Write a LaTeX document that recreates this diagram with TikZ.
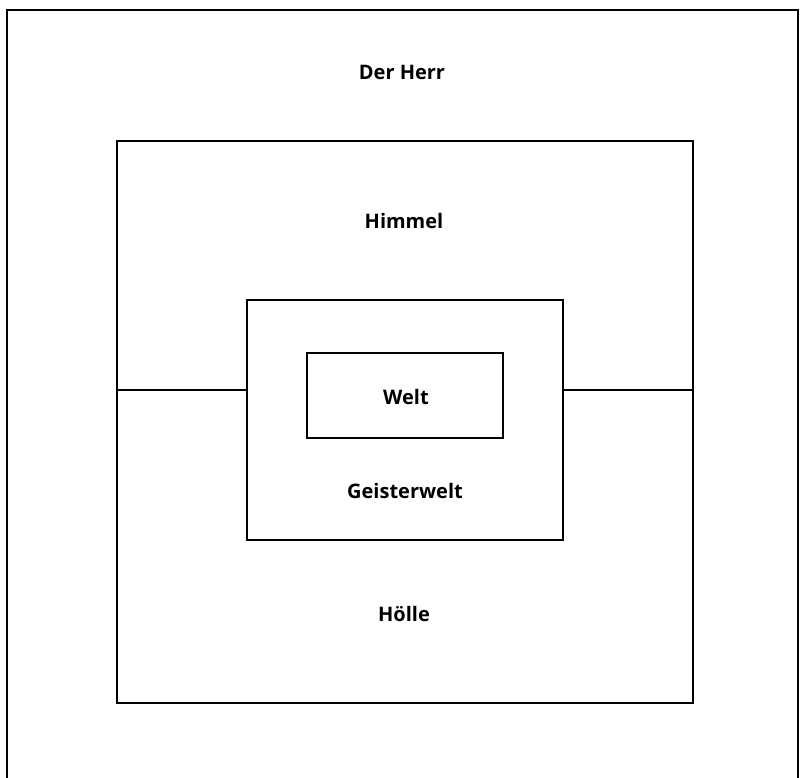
\documentclass[tikz,border=0pt]{standalone}
\usepackage{fontspec}
\setmainfont{Open Sans}
\begin{document}
\begin{tikzpicture}
[
	x=1pt,y=-1pt,
	frame/.style={draw,line width=2.2pt,inner sep=0pt},
	label/.style={font=\fontsize{20}{24}\selectfont\bfseries,anchor=base,inner sep=0pt}
]
	\useasboundingbox (0,0) rectangle (801,778);

	% outer frame, open at the bottom
	\coordinate (fbl) at (7,778);
	\coordinate (ftl) at (7,10);
	\coordinate (ftr) at (798,10);
	\coordinate (fbr) at (798,778);
	\draw[line width=2.4pt] (fbl) -- (ftl) -- (ftr) -- (fbr);

	% boxes
	\node[frame,minimum width=576,minimum height=562] at (405,422) (himmel) {};
	\node[frame,minimum width=316,minimum height=240] at (405,420) (geist) {};
	\node[frame,line width=2.6pt,minimum width=196,minimum height=85] at (405,395.5) (welt) {};

	% divider between Himmel and Hoelle
	\coordinate (divl) at (himmel.west |- 0,390);
	\coordinate (divr) at (himmel.east |- 0,390);
	\draw[line width=2.2pt] (divl) -- (divl -| geist.west);
	\draw[line width=2.2pt] (divr -| geist.east) -- (divr);

	% labels
	\node[label] at (402,80) (herr) {Der Herr};
	\node[label] at (404,229) (himmeltxt) {Himmel};
	\node[label] at (406,404) (welttxt) {Welt};
	\node[label] at (405,498) (geisttxt) {Geisterwelt};
	\node[label] at (404,621) (hoelle) {Hölle};

\end{tikzpicture}
\end{document}
